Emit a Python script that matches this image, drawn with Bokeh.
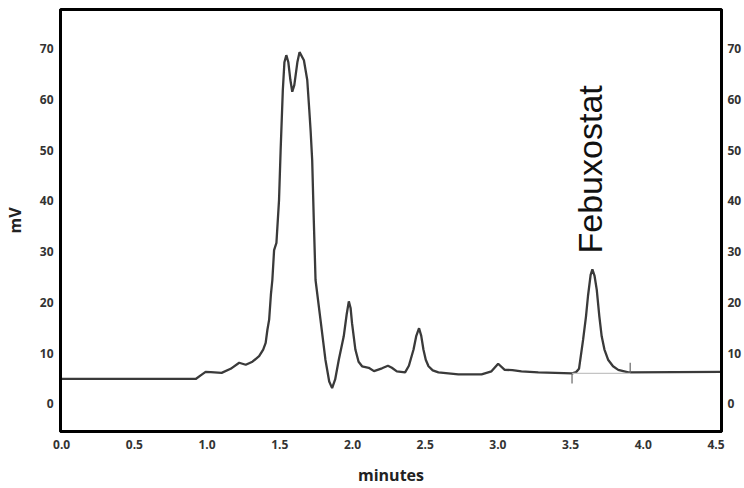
import math
from bokeh.plotting import figure
from bokeh.models import LinearAxis, FixedTicker, NumeralTickFormatter, Label, Range1d
from bokeh.embed import file_html
from bokeh.resources import INLINE

# ---- data ----
time_min = [0.00, 0.922, 0.956, 0.990, 1.025, 1.100, 1.162, 1.221, 1.266, 1.312,
            1.358, 1.386, 1.403, 1.415, 1.427, 1.439, 1.449, 1.461, 1.477, 1.495,
            1.506, 1.521, 1.532, 1.545, 1.559, 1.573, 1.586, 1.600, 1.621, 1.636,
            1.666, 1.689, 1.703, 1.712, 1.723, 1.734, 1.746, 1.780, 1.814, 1.840,
            1.860, 1.881, 1.906, 1.940, 1.960, 1.975, 1.987, 1.997, 2.020, 2.042,
            2.066, 2.112, 2.148, 2.203, 2.244, 2.271, 2.305, 2.362, 2.388, 2.420,
            2.439, 2.458, 2.473, 2.488, 2.504, 2.523, 2.552, 2.591, 2.728, 2.888,
            2.956, 3.002, 3.047, 3.100, 3.162, 3.278, 3.511, 3.538, 3.558, 3.586,
            3.606, 3.620, 3.638, 3.650, 3.665, 3.680, 3.698, 3.714, 3.733, 3.758,
            3.792, 3.828, 3.897, 4.538]
signal_mv = [4.9, 4.9, 5.6, 6.3, 6.25, 6.1, 6.9, 8.1, 7.7, 8.3,
             9.4, 10.7, 12.0, 14.6, 16.6, 21.5, 24.4, 30.3, 31.7, 40.2,
             50.0, 61.8, 67.3, 68.7, 67.3, 63.8, 61.5, 62.8, 67.3, 69.3,
             67.7, 63.8, 57.9, 53.9, 48.0, 36.2, 24.4, 16.6, 8.7, 4.4,
             3.1, 4.8, 8.7, 13.3, 17.6, 20.2, 18.9, 15.9, 10.7, 8.3,
             7.4, 7.1, 6.45, 7.0, 7.5, 7.1, 6.4, 6.2, 7.5, 10.7,
             13.4, 14.9, 13.4, 10.7, 8.7, 7.4, 6.6, 6.2, 5.8, 5.8,
             6.4, 7.9, 6.7, 6.65, 6.4, 6.2, 6.0, 6.25, 6.9, 12.6,
             17.2, 21.3, 25.4, 26.5, 25.2, 22.5, 17.2, 13.3, 10.7, 8.7,
             7.4, 6.7, 6.2, 6.3]

# integration baseline and peak start/end marks
baseline_x = [3.51, 3.91]
baseline_y = [6.0, 6.0]
mark_x = [3.51, 3.91]
mark_y0 = [6.0, 6.1]
mark_y1 = [4.0, 8.1]

x_ticks = [0.0, 0.5, 1.0, 1.5, 2.0, 2.5, 3.0, 3.5, 4.0, 4.5]
y_ticks = [0, 10, 20, 30, 40, 50, 60, 70]
peak_name = "Febuxostat"
peak_label_x = 3.635
peak_label_y = 46.2

p = figure(width=744, height=488, output_backend="svg", toolbar_location=None,
           title=None,
           x_range=Range1d(-0.008, 4.538), y_range=Range1d(-5.45, 77.7),
           min_border_left=57, min_border_right=23, min_border_top=9,
           min_border_bottom=56)
p.grid.visible = False
p.outline_line_color = "black"
p.outline_line_width = 3
p.outline_line_alpha = 1.0
p.background_fill_color = "white"
p.border_fill_color = "white"

p.line(time_min, signal_mv, line_color="#3a3a3a", line_width=2.3)
p.line(baseline_x, baseline_y, line_color="#c4c4c4", line_width=1.3)
p.segment(x0=mark_x, y0=mark_y0, x1=mark_x, y1=mark_y1, line_color="#666666", line_width=1.2)

p.add_layout(Label(x=peak_label_x, y=peak_label_y, text=peak_name, angle=math.pi / 2,
                   text_align="center", text_baseline="alphabetic",
                   text_font="Liberation Sans", text_font_size="34px", text_color="#111111"))

right_axis = LinearAxis()
p.add_layout(right_axis, "right")

def style(ax):
    ax.axis_line_color = "black"
    ax.axis_line_width = 3
    ax.major_tick_line_color = None
    ax.minor_tick_line_color = None
    ax.major_tick_out = 0
    ax.major_tick_in = 0
    ax.major_label_text_font = "Open Sans"
    ax.major_label_text_font_style = "bold"
    ax.major_label_text_font_size = "12px"
    ax.major_label_text_color = "#333333"
    ax.axis_label_text_font = "Open Sans"
    ax.axis_label_text_font_style = "bold"
    ax.axis_label_text_font_size = "16px"
    ax.axis_label_text_color = "#222222"

for ax in [p.xaxis[0], p.yaxis[0], right_axis]:
    style(ax)

p.xaxis[0].ticker = FixedTicker(ticks=x_ticks)
p.xaxis[0].formatter = NumeralTickFormatter(format="0.0")
p.xaxis[0].major_label_standoff = 8
p.xaxis[0].axis_label = "minutes"
p.xaxis[0].axis_label_standoff = 12

p.yaxis[0].ticker = FixedTicker(ticks=y_ticks)
p.yaxis[0].major_label_standoff = 7
p.yaxis[0].axis_label = "mV"
p.yaxis[0].axis_label_standoff = 11

right_axis.ticker = FixedTicker(ticks=y_ticks)
right_axis.major_label_standoff = 6

open("out.html", "w").write(file_html(p, INLINE))
